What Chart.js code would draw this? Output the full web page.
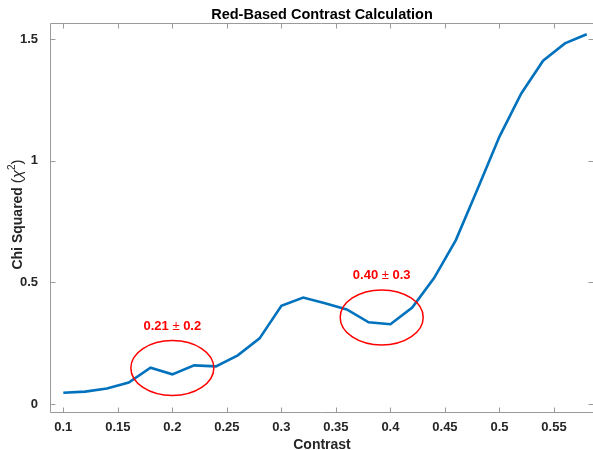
<!DOCTYPE html>
<html>
<head>
<meta charset="utf-8">
<script src="https://cdn.jsdelivr.net/npm/chart.js@4/dist/chart.umd.min.js"></script>
<style>
  html, body { margin: 0; padding: 0; background: #ffffff; }
  #c { display: block; }
</style>
</head>
<body>
<canvas id="c" width="593" height="450"></canvas>
<script>
// Contrast values and the chi-squared fit quality at each one
const contrast = [0.10, 0.12, 0.14, 0.16, 0.18, 0.20, 0.22, 0.24, 0.26, 0.28, 0.30, 0.32, 0.34,
                  0.36, 0.38, 0.40, 0.42, 0.44, 0.46, 0.48, 0.50, 0.52, 0.54, 0.56, 0.58];
const chiSquared = [0.046, 0.051, 0.064, 0.088, 0.149, 0.122, 0.159, 0.155, 0.200, 0.270, 0.404, 0.438, 0.414,
                    0.389, 0.336, 0.328, 0.397, 0.518, 0.674, 0.885, 1.100, 1.277, 1.412, 1.483, 1.521];

// Axis tick values
const xTicks = [0.1, 0.15, 0.2, 0.25, 0.3, 0.35, 0.4, 0.45, 0.5, 0.55];
const yTicks = [0, 0.5, 1, 1.5];

// Local minima that are circled, with their estimates
const minimaX = [0.2, 0.392];
const minimaY = [0.148, 0.356];
const minimaValue = ['0.21', '0.40'];
const minimaError = ['0.2', '0.3'];

const AXIS_COLOR = '#9a9a9a';
const TEXT_COLOR = '#262626';
const FONT = '"Liberation Sans", Arial, Helvetica, sans-serif';

function fmt(v) { return String(+v.toFixed(2)); }

// Box frame with inward-pointing ticks; the right edge sits just past the canvas
const framePlugin = {
  id: 'frame',
  afterDatasetsDraw(chart) {
    const { ctx, chartArea: a, scales: { x, y } } = chart;
    ctx.save();
    ctx.strokeStyle = AXIS_COLOR;
    ctx.lineWidth = 1;
    const L = Math.round(a.left) - 0.5, R = Math.round(a.right) - 0.5;
    const T = Math.round(a.top) + 0.5, B = Math.round(a.bottom) + 0.5;
    ctx.beginPath();
    ctx.moveTo(L, T); ctx.lineTo(a.right, T);
    ctx.moveTo(L, T); ctx.lineTo(L, B);
    ctx.moveTo(L, B); ctx.lineTo(a.right, B);
    const tl = 5;
    xTicks.forEach(v => {
      const px = Math.round(x.getPixelForValue(v)) + 0.5;
      ctx.moveTo(px, B); ctx.lineTo(px, B - tl);
      ctx.moveTo(px, T); ctx.lineTo(px, T + tl);
    });
    yTicks.forEach(v => {
      const py = Math.round(y.getPixelForValue(v)) + 0.5;
      ctx.moveTo(L, py); ctx.lineTo(L + tl, py);
      ctx.moveTo(R + 1, py); ctx.lineTo(R + 1 - tl, py);
    });
    ctx.stroke();
    ctx.restore();
  }
};

// Draws a run of text pieces with different fonts, centred on cx
function drawRuns(ctx, runs, cx, baseline) {
  let total = 0;
  runs.forEach(r => { ctx.font = r.font; r.w = ctx.measureText(r.text).width; total += r.w; });
  let xPos = cx - total / 2;
  ctx.textAlign = 'left';
  ctx.textBaseline = 'alphabetic';
  runs.forEach(r => {
    ctx.font = r.font;
    ctx.fillText(r.text, xPos, baseline + (r.dy || 0));
    xPos += r.w;
  });
}

// Ellipses round the minima and their labels
const minimaPlugin = {
  id: 'minima',
  afterDatasetsDraw(chart) {
    const { ctx, scales: { x, y } } = chart;
    ctx.save();
    ctx.strokeStyle = '#ff0000';
    ctx.fillStyle = '#ff0000';
    ctx.lineWidth = 1.5;
    minimaX.forEach((mx, i) => {
      const cx = x.getPixelForValue(mx);
      const cy = y.getPixelForValue(minimaY[i]);
      ctx.beginPath();
      ctx.ellipse(cx, cy, 41.5, 27.5, 0, 0, Math.PI * 2);
      ctx.stroke();
      drawRuns(ctx, [
        { text: minimaValue[i] + ' ', font: 'bold 13px ' + FONT },
        { text: '\u00b1', font: '13px ' + FONT },
        { text: ' ' + minimaError[i], font: 'bold 13px ' + FONT }
      ], cx, cy - 38);
    });
    ctx.restore();
  }
};

// Title and axis titles
const labelsPlugin = {
  id: 'labels',
  afterDraw(chart) {
    const { ctx, chartArea: a } = chart;
    const cx = (a.left + a.right) / 2;
    ctx.save();
    ctx.fillStyle = '#000000';
    drawRuns(ctx, [{ text: 'Red-Based Contrast Calculation', font: 'bold 14.5px ' + FONT }], cx, 19);
    ctx.fillStyle = TEXT_COLOR;
    drawRuns(ctx, [{ text: 'Contrast', font: 'bold 14px ' + FONT }], cx, 449);
    ctx.translate(22, (a.top + a.bottom) / 2 - 3);
    ctx.rotate(-Math.PI / 2);
    drawRuns(ctx, [
      { text: 'Chi Squared ', font: 'bold 14px ' + FONT },
      { text: '(', font: '15px ' + FONT },
      { text: '\u03c7', font: 'italic 15px ' + FONT },
      { text: '2', font: '10px ' + FONT, dy: -7 },
      { text: ')', font: '15px ' + FONT }
    ], 0, 0);
    ctx.restore();
  }
};

new Chart(document.getElementById('c'), {
  type: 'line',
  data: {
    datasets: [{
      data: contrast.map((c, i) => ({ x: c, y: chiSquared[i] })),
      borderColor: '#0072BD',
      borderWidth: 2.6,
      pointRadius: 0,
      tension: 0,
      fill: false
    }]
  },
  options: {
    responsive: false,
    animation: false,
    layout: { padding: { top: 23, right: 0, left: 0, bottom: 0 } },
    plugins: { legend: { display: false }, tooltip: { enabled: false }, title: { display: false } },
    scales: {
      x: {
        type: 'linear',
        min: 0.08872,
        max: 0.58577,
        afterBuildTicks: s => { s.ticks = xTicks.map(v => ({ value: v })); },
        afterFit: s => { s.height = 38; },
        grid: { display: false },
        border: { display: false },
        ticks: {
          callback: v => fmt(v),
          color: TEXT_COLOR,
          font: { family: FONT, size: 13, weight: 'bold' },
          padding: 0,
          maxRotation: 0,
          autoSkip: false
        }
      },
      y: {
        type: 'linear',
        min: -0.0329,
        max: 1.567,
        afterBuildTicks: s => { s.ticks = yTicks.map(v => ({ value: v })); },
        afterFit: s => { s.width = 51; },
        grid: { display: false },
        border: { display: false },
        ticks: {
          callback: v => fmt(v),
          color: TEXT_COLOR,
          font: { family: FONT, size: 13, weight: 'bold' },
          padding: 5
        }
      }
    }
  },
  plugins: [framePlugin, minimaPlugin, labelsPlugin]
});
</script>
</body>
</html>
